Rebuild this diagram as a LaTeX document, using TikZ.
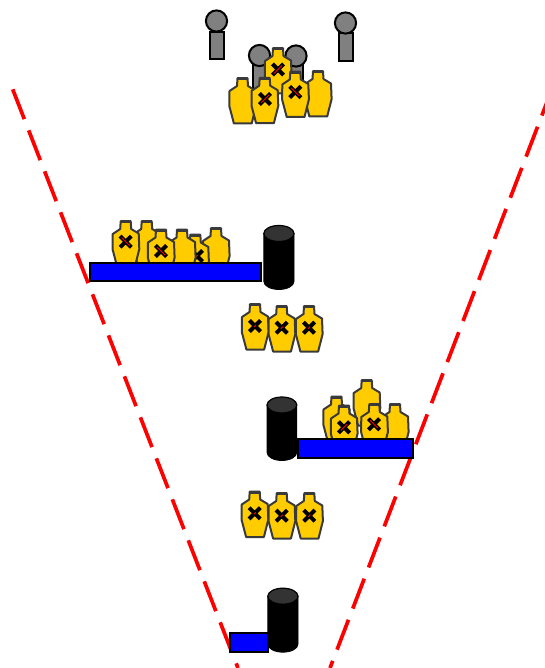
\documentclass[tikz,border=0pt]{standalone}
\usetikzlibrary{calc}
\definecolor{tgold}{HTML}{FFCC00}
\definecolor{tedge}{HTML}{3A3A3A}
\definecolor{pgrey}{HTML}{808080}
\definecolor{cyltop}{HTML}{333333}
\tikzset{
  x=1pt,y=-1pt,
  targetbody/.style={fill=tgold,draw=tedge,line width=2pt,line join=round},
  xblack/.style={draw=black,line width=4pt},
  xred/.style={draw=red,line width=0.9pt},
  person/.style={fill=pgrey,draw=black,line width=2pt},
  barbox/.style={fill=blue,draw=black,line width=2pt},
  cyl/.style={fill=black,draw=black,line width=0.8pt},
  cyllid/.style={fill=cyltop,draw=black,line width=1.2pt},
  lane/.style={draw=red,line width=3.7pt,dash pattern=on 32pt off 12pt}
}
% #1 centre x, #2 top y
\newcommand{\tgt}[2]{%
  \draw[targetbody,shift={(#1,#2)}]
    (-5,0.2) -- (5,0.2) -- (5.5,8) -- (13,12.5) -- (13.6,28) -- (9.2,45.5)
    -- (-8.6,45.5) -- (-13.2,28) -- (-13,13) -- (-5.5,8) -- cycle;
  \draw[draw=tedge,line width=3pt,shift={(#1,#2)}] (-4.8,0.8) -- (4.8,0.8);
}
% #1,#2 cross centre, #3 red half-length x, #4 red half-length y
\newcommand{\crs}[4]{%
  \draw[xblack,shift={(#1,#2)}] (-5.6,-5.6) -- (5.6,5.6) (-5.6,5.6) -- (5.6,-5.6);
  \draw[xred,shift={(#1,#2)}] (-#3,#4) -- (#3,-#4);
}
\newcommand{\cylinder}[4]{% x0 x1 ytop ybot
  \draw[cyl] (#1,#3+8) -- (#1,#4-8) arc[x radius={(#2-#1)/2},y radius=8,start angle=180,end angle=0] -- (#2,#3+8) -- cycle;
  \draw[cyllid] ({(#1+#2)/2},#3+8) ellipse[x radius={(#2-#1)/2},y radius=8];
}
\begin{document}
\begin{tikzpicture}
\useasboundingbox (0,0) rectangle (545,668);
\clip (0,0) rectangle (545,668);
% lane
\coordinate (laneLA) at (12.7,89.3);
\coordinate (laneLB) at (238,668);
\coordinate (laneRA) at (553.3,85.7);
\coordinate (laneRB) at (330,668);
\draw[lane] (laneLA) -- (laneLB);
\draw[lane] (laneRA) -- (laneRB);
% people
\draw[person] (210,32) rectangle (223.5,59);
\draw[person] (216.5,21) circle[radius=10.6];
\draw[person] (339,33) rectangle (352.5,61);
\draw[person] (345.5,23) circle[radius=10.6];
\draw[person] (253,64) rectangle (266.5,93);
\draw[person] (259.5,55.5) circle[radius=10.6];
\draw[person] (289.5,64) rectangle (303,93);
\draw[person] (296,56) circle[radius=10.6];
% top group
\tgt{242.5}{78}
\tgt{318}{71}
\tgt{278}{48}\crs{278}{69.5}{4}{4}
\tgt{264.7}{77.7}\crs{265}{99}{4}{4}
\tgt{295.3}{71.5}\crs{295.3}{92}{4}{-4}
% second group
\tgt{146.7}{221}
\tgt{216}{228}
\tgt{195.3}{234.5}\crs{197}{256}{1}{1}
\tgt{182}{229.5}
\tgt{125.7}{221}\crs{125.7}{241.7}{4}{-4}
\tgt{161}{229.5}\crs{161}{251}{4}{-4}
\draw[barbox] (90,262.8) rectangle (260.5,281);
\cylinder{263.8}{294}{225.5}{289.5}
% row
\tgt{255}{304}\crs{255}{326}{1}{1}
\tgt{281.7}{306}\crs{281.7}{327.7}{1}{1}
\tgt{309}{306}\crs{309}{327.7}{1}{1}
% third group
\tgt{336.5}{396.5}
\tgt{366.7}{380}
\tgt{395}{404}
\tgt{344}{405.5}\crs{344}{427.3}{3}{3}
\tgt{374.3}{404}\crs{374}{424.3}{4}{-4}
\draw[barbox] (297.5,438.8) rectangle (413,457.5);
\cylinder{267}{296.8}{397}{460.5}
% row
\tgt{254.7}{491.5}\crs{254.7}{513.3}{1}{1}
\tgt{281.7}{493}\crs{281.7}{515.7}{1}{1}
\tgt{309.3}{493}\crs{309.3}{515.7}{1}{1}
% bottom
\draw[barbox] (230,632.8) rectangle (267.5,652);
\cylinder{267.8}{298}{588.2}{652.2}
\end{tikzpicture}
\end{document}
